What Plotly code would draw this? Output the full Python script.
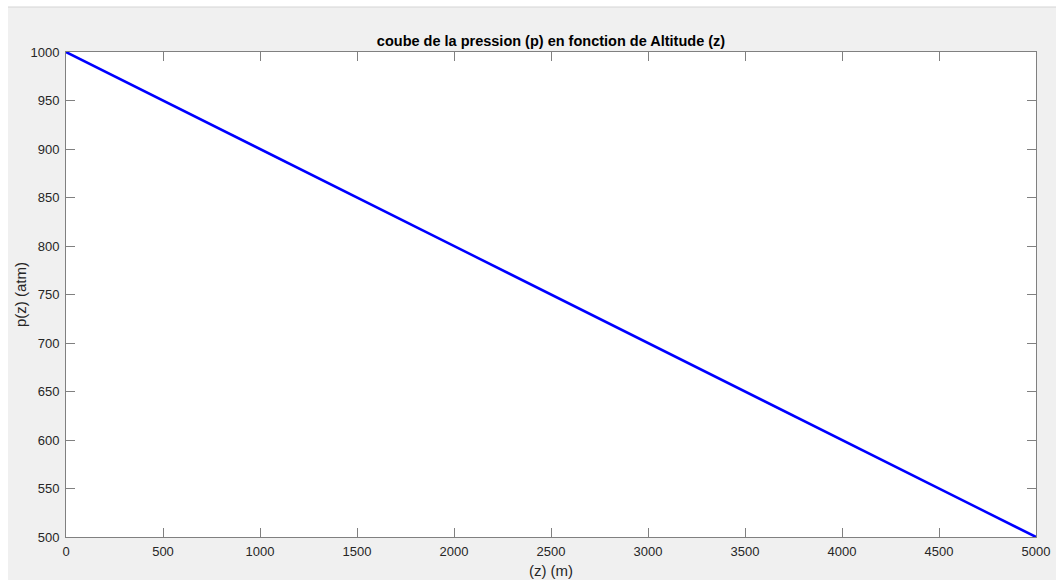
import plotly.graph_objects as go

# Data
altitude_z = [0, 1000, 2000, 3000, 4000, 5000]
pression_p = [1000, 900, 800, 700, 600, 500]
x_ticks = [0, 500, 1000, 1500, 2000, 2500, 3000, 3500, 4000, 4500, 5000]
y_ticks = [500, 550, 600, 650, 700, 750, 800, 850, 900, 950, 1000]

W, H = 1056, 583
L, R, T, B = 66, 20, 52, 46
pw, ph = W - L - R, H - T - B

FONT = "Liberation Sans, Arial, Helvetica, sans-serif"

def px_x(p):
    return (p - L) / pw

def px_y(p):
    return 1 - (p - T) / ph

fig = go.Figure()
fig.add_trace(go.Scatter(
    x=altitude_z, y=pression_p, mode="lines",
    line=dict(color="#0000ff", width=2.5),
    cliponaxis=False, showlegend=False, hoverinfo="x+y"))

axis_common = dict(
    showline=True, linecolor="#808080", linewidth=1,
    ticks="inside", ticklen=9, tickcolor="#808080", tickwidth=1,
    mirror="ticks", showgrid=False, zeroline=False, automargin=False,
    tickfont=dict(family=FONT, size=13, color="#262626"),
)

fig.update_xaxes(range=[0, 5000], tickvals=x_ticks, ticklabelstandoff=2,
                 title=dict(text="(z) (m)", standoff=7,
                            font=dict(family=FONT, size=15, color="#262626")),
                 **axis_common)
fig.update_yaxes(range=[500, 1000], tickvals=y_ticks, ticklabelstandoff=3,
                 title=dict(text="p(z) (atm)", standoff=0,
                            font=dict(family=FONT, size=15, color="#262626")),
                 **axis_common)

shapes = [
    # white strips outside the gray figure frame
    dict(type="rect", xref="paper", yref="paper", x0=px_x(0), x1=px_x(W), y0=px_y(7), y1=px_y(0),
         fillcolor="white", line=dict(width=0), layer="below"),
    dict(type="rect", xref="paper", yref="paper", x0=px_x(0), x1=px_x(8), y0=px_y(H), y1=px_y(0),
         fillcolor="white", line=dict(width=0), layer="below"),
    dict(type="rect", xref="paper", yref="paper", x0=px_x(0), x1=px_x(W), y0=px_y(H), y1=px_y(580),
         fillcolor="white", line=dict(width=0), layer="below"),
    dict(type="line", xref="paper", yref="paper", x0=px_x(8), x1=px_x(W), y0=px_y(7), y1=px_y(7),
         line=dict(color="#d4d4d4", width=1), layer="below"),
]

fig.update_layout(
    width=W, height=H,
    margin=dict(l=L, r=R, t=T, b=B, pad=0, autoexpand=False),
    paper_bgcolor="#f0f0f0", plot_bgcolor="white",
    title=dict(text="<b>coube de la pression (p) en fonction de Altitude (z)</b>",
               x=0.5, xref="paper", xanchor="center",
               y=1, yref="paper", yanchor="bottom", pad=dict(b=6),
               font=dict(family=FONT, size=14.5, color="#000000"),
               automargin=False),
    shapes=shapes,
)

fig.write_html("out.html")
